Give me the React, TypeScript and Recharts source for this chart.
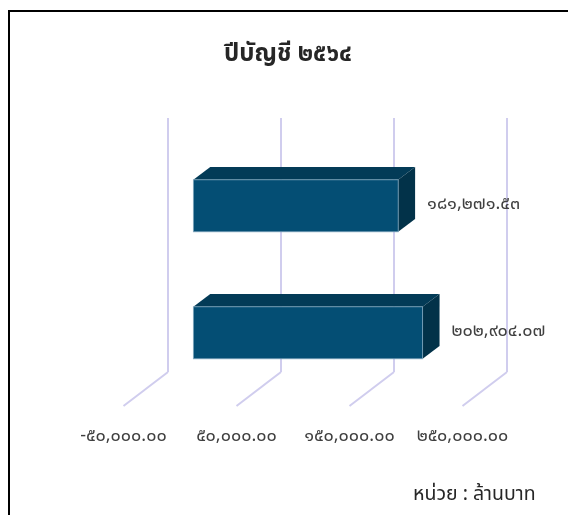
import { BarChart, Bar, XAxis, YAxis, CartesianGrid, LabelList } from 'recharts';

const categories = ['หนี้ที่จัดเก็บได้', 'หนี้ครบกำหนดชำระ'];
const values = [181271.53, 202904.07];
const tickValues = [-50000, 50000, 150000, 250000];
const tickLabels = ['-๕๐,๐๐๐.๐๐', '๕๐,๐๐๐.๐๐', '๑๕๐,๐๐๐.๐๐', '๒๕๐,๐๐๐.๐๐'];

const data = categories.map((name, i) => ({ name, value: values[i] }));

const FONT = "'Noto Sans Thai', Tahoma, 'Leelawadee UI', 'Noto Sans', sans-serif";
// full depth of the 3d floor (back wall -> front edge)
const DX = 44.5;
const DY = 34;
const FRONT = 0.7; // bar front face, from back wall
const BACK = 0.32; // bar back face
const GRID = '#d0cdee';

const thaiDigits = '๐๑๒๓๔๕๖๗๘๙';
const toThai = (n: number) =>
  n
    .toLocaleString('en-US', { minimumFractionDigits: 2, maximumFractionDigits: 2 })
    .replace(/[0-9]/g, (d) => thaiDigits[Number(d)]);

const Box3D = (props: any) => {
  const { x, y, width, height } = props;
  const fx = x - FRONT * DX;
  const fy = y + FRONT * DY;
  const bx = x - BACK * DX;
  const by = y + BACK * DY;
  return (
    <g>
      <polygon
        points={`${fx},${fy} ${fx + width},${fy} ${bx + width},${by} ${bx},${by}`}
        fill="#033b57"
      />
      <polygon
        points={`${fx + width},${fy} ${bx + width},${by} ${bx + width},${by + height} ${fx + width},${fy + height}`}
        fill="#023249"
      />
      <rect x={fx} y={fy} width={width} height={height} fill="#044e74" stroke="#7fa6bd" strokeWidth={0.8} />
    </g>
  );
};

const ValueLabel = (props: any) => {
  const { x, y, width, height, value } = props;
  return (
    <text
      x={x + width - BACK * DX + 12}
      y={y + height / 2 + FRONT * DY - 2}
      fontSize={18}
      fill="#404040"
      fontFamily={FONT}
      dominantBaseline="central"
    >
      {toThai(value)}
    </text>
  );
};

const TickX = (props: any) => {
  const { x, y, index } = props;
  return (
    <g>
      <line x1={x} y1={y} x2={x - DX} y2={y + DY} stroke={GRID} strokeWidth={2} />
      <text
        x={x - DX}
        y={y + DY + 29}
        textAnchor="middle"
        dominantBaseline="central"
        fontSize={18}
        fill="#404040"
        fontFamily={FONT}
      >
        {tickLabels[index]}
      </text>
    </g>
  );
};

const TickY = (props: any) => {
  const { x, y, payload } = props;
  return (
    <text
      x={x - 8}
      y={y + 33}
      textAnchor="end"
      dominantBaseline="central"
      fontSize={16}
      fill="#1f1f1f"
      fontFamily={FONT}
    >
      {payload.value}
    </text>
  );
};

export default function App() {
  return (
    <div style={{ position: 'relative', width: 552, height: 499, fontFamily: FONT }}>
      <div
        style={{
          position: 'fixed',
          left: 8,
          top: 10,
          right: 0,
          bottom: 0,
          borderTop: '2px solid #000',
          borderLeft: '2px solid #000',
        }}
      />
      <div
        style={{
          position: 'absolute',
          left: 0,
          top: 28,
          width: 560,
          textAlign: 'center',
          fontSize: 24,
          fontWeight: 700,
          color: '#262626',
        }}
      >
        ปีบัญชี ๒๕๖๔
      </div>
      <BarChart
        width={552}
        height={499}
        data={data}
        layout="vertical"
        margin={{ top: 110, right: 53, left: 160, bottom: 105 }}
        style={{ position: 'absolute', left: 0, top: 0 }}
      >
        <CartesianGrid horizontal={false} stroke={GRID} strokeWidth={2} />
        <XAxis
          type="number"
          domain={[-50000, 250000]}
          ticks={tickValues}
          interval={0}
          height={30}
          tickSize={0}
          tickMargin={0}
          axisLine={false}
          tickLine={false}
          tick={<TickX />}
        />
        <YAxis
          type="category"
          dataKey="name"
          width={0}
          tickSize={0}
          tickMargin={0}
          axisLine={false}
          tickLine={false}
          tick={<TickY />}
        />
        <Bar dataKey="value" barSize={52} shape={<Box3D />} isAnimationActive={false}>
          <LabelList dataKey="value" content={<ValueLabel />} />
        </Bar>
      </BarChart>
      <div
        style={{
          position: 'absolute',
          left: 405,
          top: 471,
          fontSize: 19.5,
          color: '#262626',
        }}
      >
        หน่วย : ล้านบาท
      </div>
    </div>
  );
}
